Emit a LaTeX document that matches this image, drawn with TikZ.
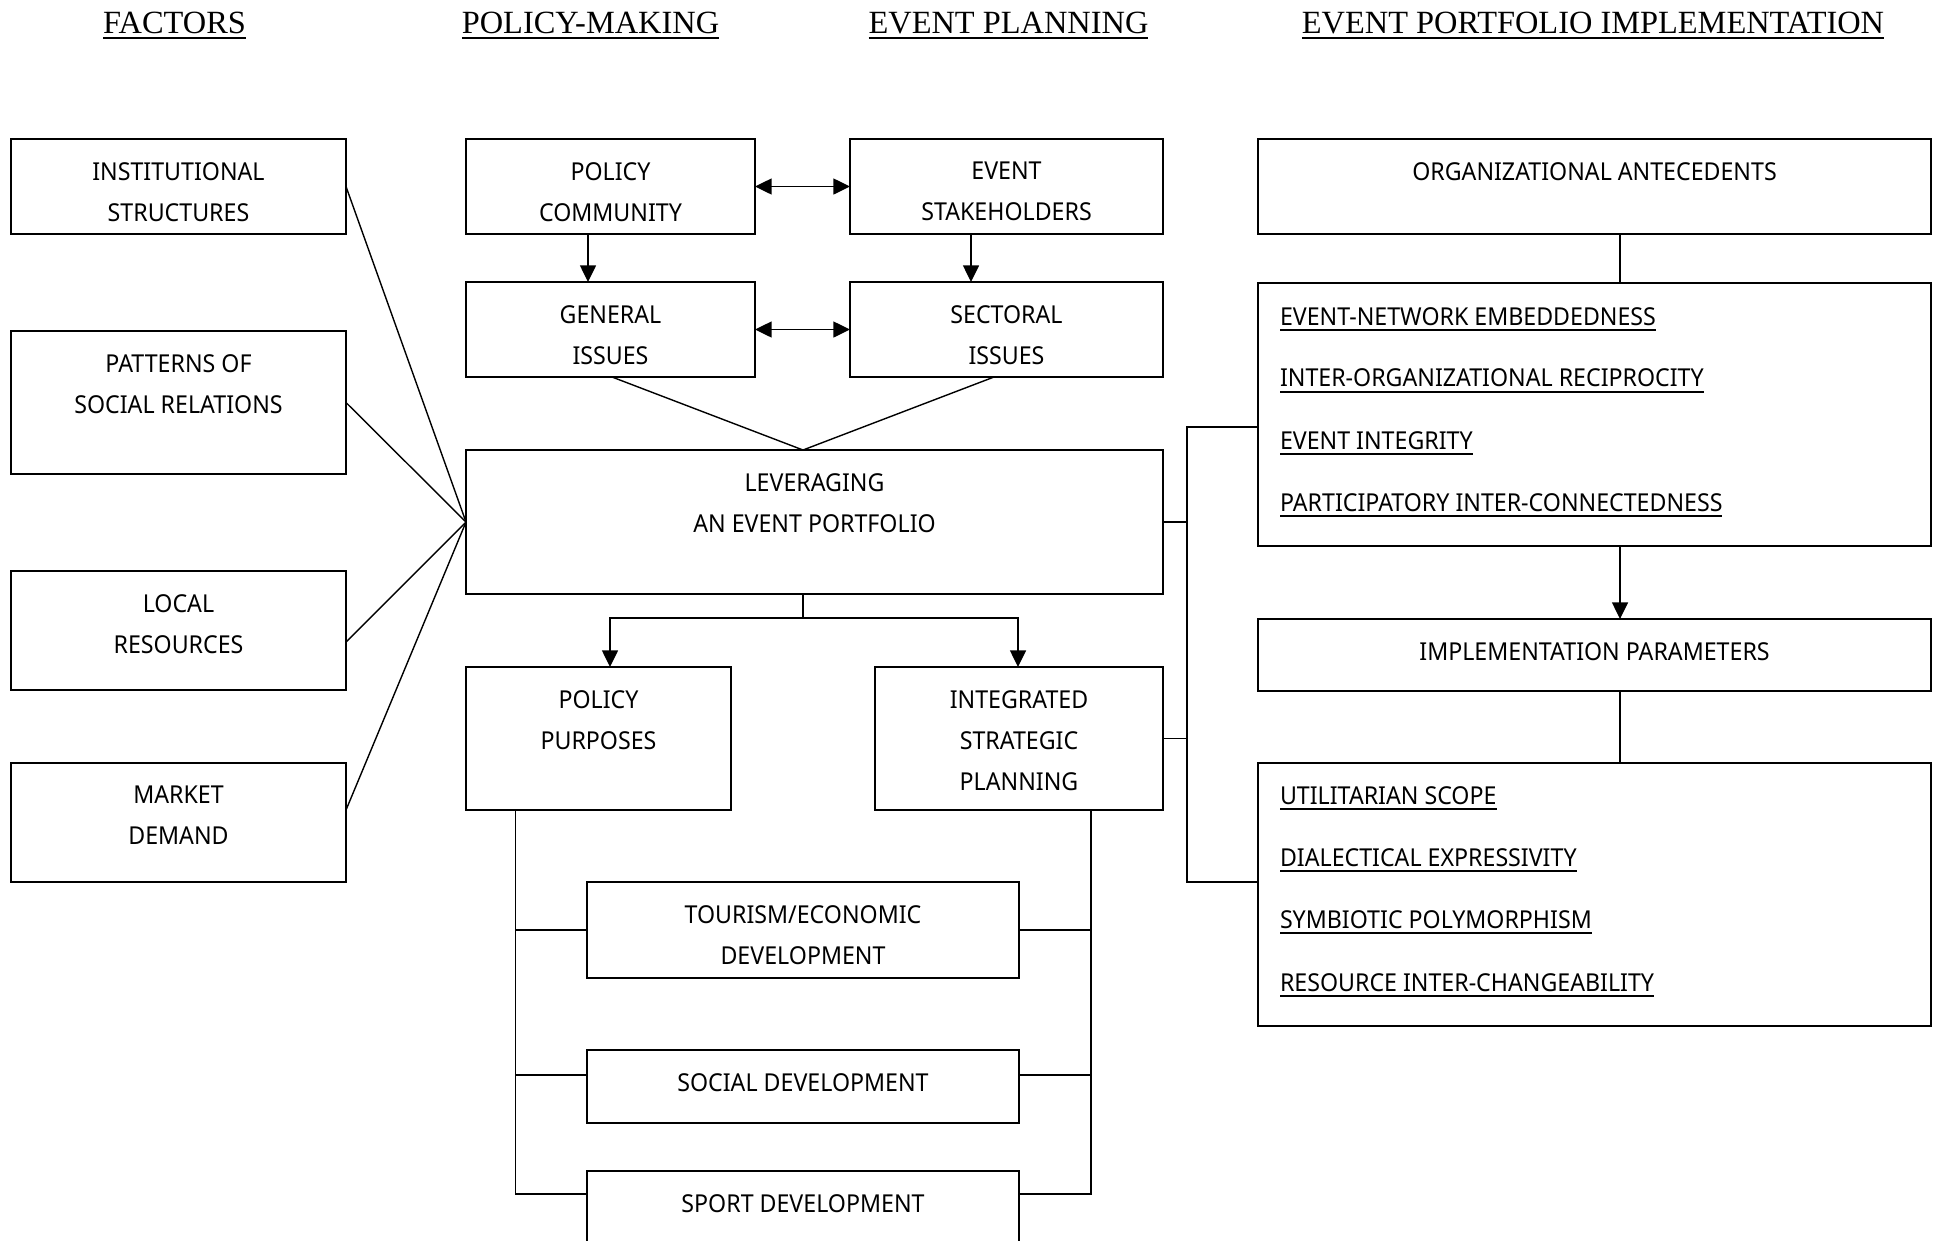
\documentclass[tikz,border=0pt]{standalone}
\usepackage{fontspec}
\newfontfamily\boxfont{Noto Sans}[FakeStretch=0.94]
\newfontfamily\headfont{Liberation Serif}
\usetikzlibrary{arrows.meta,fit}
\newcommand\mybox[6]{%
  \node[box, fit={(#2,#3) (#4,#5)}] (#1) {};
  \node[txt, anchor=north] (#1t) at ([yshift=-17.4pt]#1.north) {#6};}
\newcommand\litem[3]{%
  \node[item] (#1) at (1280,#2) {#3};
  \draw[uline] ([yshift=-3.9pt]#1.base west) -- ([yshift=-3.9pt]#1.base east);}
\newcommand\hdr[3]{%
  \node[head] (#1) at (#2,33.3) {#3};
  \draw[hline] ([yshift=-3.3pt]#1.base west) -- ([yshift=-3.3pt]#1.base east);}
\begin{document}
\begin{tikzpicture}[x=0.75pt,y=-0.75pt,
  box/.style={draw, line width=1.25pt, inner sep=0pt, outer sep=0pt},
  txt/.style={font=\boxfont\fontsize{18.5}{30.75}\selectfont, align=center, inner sep=0pt, outer sep=0pt},
  item/.style={font=\boxfont\fontsize{18.5}{30.75}\selectfont, anchor=base west, inner sep=0pt, outer sep=0pt},
  uline/.style={line width=1.3pt},
  head/.style={font=\headfont\fontsize{24.3}{28}\selectfont, anchor=base, inner sep=0pt, outer sep=0pt},
  hline/.style={line width=1.6pt},
  conn/.style={line width=1.05pt},
  arr/.style={conn, -{Triangle[length=12.5pt,width=12pt]}},
  dbl/.style={conn, {Triangle[length=12.5pt,width=12pt]}-{Triangle[length=12.5pt,width=12pt]}}]
\useasboundingbox (0,0) rectangle (1940,1240);
\clip (0,0) rectangle (1940,1240);
\fill[white] (0,0) rectangle (1940,1240);

% headers
\hdr{h1}{174.5}{FACTORS}
\hdr{h2}{590.5}{POLICY-MAKING}
\hdr{h3}{1008.5}{EVENT PLANNING}
\hdr{h4}{1593}{EVENT PORTFOLIO IMPLEMENTATION}

% factor boxes
\mybox{ic}{11}{139}{346}{234}{INSTITUTIONAL\\STRUCTURES}
\mybox{pr}{11}{331}{346}{474}{PATTERNS OF\\SOCIAL RELATIONS}
\mybox{lr}{11}{571}{346}{690}{LOCAL\\RESOURCES}
\mybox{md}{11}{763}{346}{882}{MARKET\\DEMAND}

% policy / planning
\mybox{pc}{466}{139}{755}{234}{POLICY\\COMMUNITY}
\mybox{es}{850}{139}{1163}{234}{EVENT\\STAKEHOLDERS}
\mybox{gi}{466}{282}{755}{377}{GENERAL\\ISSUES}
\mybox{si}{850}{282}{1163}{377}{SECTORAL\\ISSUES}
\mybox{lev}{466}{450}{1163}{594}{LEVERAGING\\AN EVENT PORTFOLIO}
\mybox{pp}{466}{667}{731}{810}{POLICY\\PURPOSES}
\mybox{isp}{875}{667}{1163}{810}{INTEGRATED\\STRATEGIC\\PLANNING}
\mybox{te}{587}{882}{1019}{978}{TOURISM/ECONOMIC\\DEVELOPMENT}
\mybox{sd}{587}{1050}{1019}{1123}{SOCIAL DEVELOPMENT}
\mybox{sp}{587}{1171}{1019}{1300}{SPORT DEVELOPMENT}

% implementation
\mybox{oa}{1258}{139}{1931}{234}{ORGANIZATIONAL ANTECEDENTS}
\mybox{b1}{1258}{283}{1931}{546}{}
\mybox{ip}{1258}{619}{1931}{691}{IMPLEMENTATION PARAMETERS}
\mybox{b2}{1258}{763}{1931}{1026}{}

\litem{e1}{325}{EVENT-NETWORK EMBEDDEDNESS}
\litem{e2}{386.5}{INTER-ORGANIZATIONAL RECIPROCITY}
\litem{e3}{449}{EVENT INTEGRITY}
\litem{e4}{511}{PARTICIPATORY INTER-CONNECTEDNESS}
\litem{u1}{804}{UTILITARIAN SCOPE}
\litem{u2}{866}{DIALECTICAL EXPRESSIVITY}
\litem{u3}{928}{SYMBIOTIC POLYMORPHISM}
\litem{u4}{991}{RESOURCE INTER-CHANGEABILITY}

% helper coordinates
\coordinate (yL) at (0,642);
\coordinate (yM) at (0,810);
\coordinate (xa) at (588,0);
\coordinate (xb) at (971,0);
\coordinate (xg) at (612,0);
\coordinate (xs) at (994,0);
\coordinate (xm) at (803,0);
\coordinate (yj) at (0,618);
\coordinate (xp) at (610,0);
\coordinate (xi) at (1018,0);
\coordinate (xL) at (515.5,0);
\coordinate (xR) at (1091,0);
\coordinate (y1) at (0,930);
\coordinate (y2) at (0,1075);
\coordinate (y3) at (0,1194);
\coordinate (xV) at (1187,0);
\coordinate (yt) at (0,427);
\coordinate (yb) at (0,882);
\coordinate (xC) at (1620,0);

% factor connectors
\draw[conn] (ic.east) -- (lev.west);
\draw[conn] (pr.east) -- (lev.west);
\draw[conn] (lr.east |- yL) -- (lev.west);
\draw[conn] (md.east |- yM) -- (lev.west);

% policy-making / planning connectors
\draw[dbl] (pc.east) -- (es.west);
\draw[dbl] (gi.east) -- (si.west);
\draw[arr] (pc.south -| xa) -- (gi.north -| xa);
\draw[arr] (es.south -| xb) -- (si.north -| xb);
\draw[conn] (gi.south -| xg) -- (lev.north -| xm) -- (si.south -| xs);
\draw[conn] (lev.south -| xm) -- (xm |- yj);
\draw[arr] (xm |- yj) -| (pp.north -| xp);
\draw[arr] (xm |- yj) -| (isp.north -| xi);

% development buses
\draw[conn] (pp.south -| xL) |- (sp.west |- y3);
\draw[conn] (xL |- y1) -- (te.west |- y1);
\draw[conn] (xL |- y2) -- (sd.west |- y2);
\draw[conn] (isp.south -| xR) |- (sp.east |- y3);
\draw[conn] (xR |- y1) -- (te.east |- y1);
\draw[conn] (xR |- y2) -- (sd.east |- y2);

% right side
\draw[conn] (b1.west |- yt) -| (xV |- yb) -- (b2.west |- yb);
\draw[conn] (lev.east) -- (xV |- lev.east);
\draw[conn] (isp.east) -- (xV |- isp.east);
\draw[conn] (oa.south -| xC) -- (b1.north -| xC);
\draw[arr] (b1.south -| xC) -- (ip.north -| xC);
\draw[conn] (ip.south -| xC) -- (b2.north -| xC);
\end{tikzpicture}
\end{document}
